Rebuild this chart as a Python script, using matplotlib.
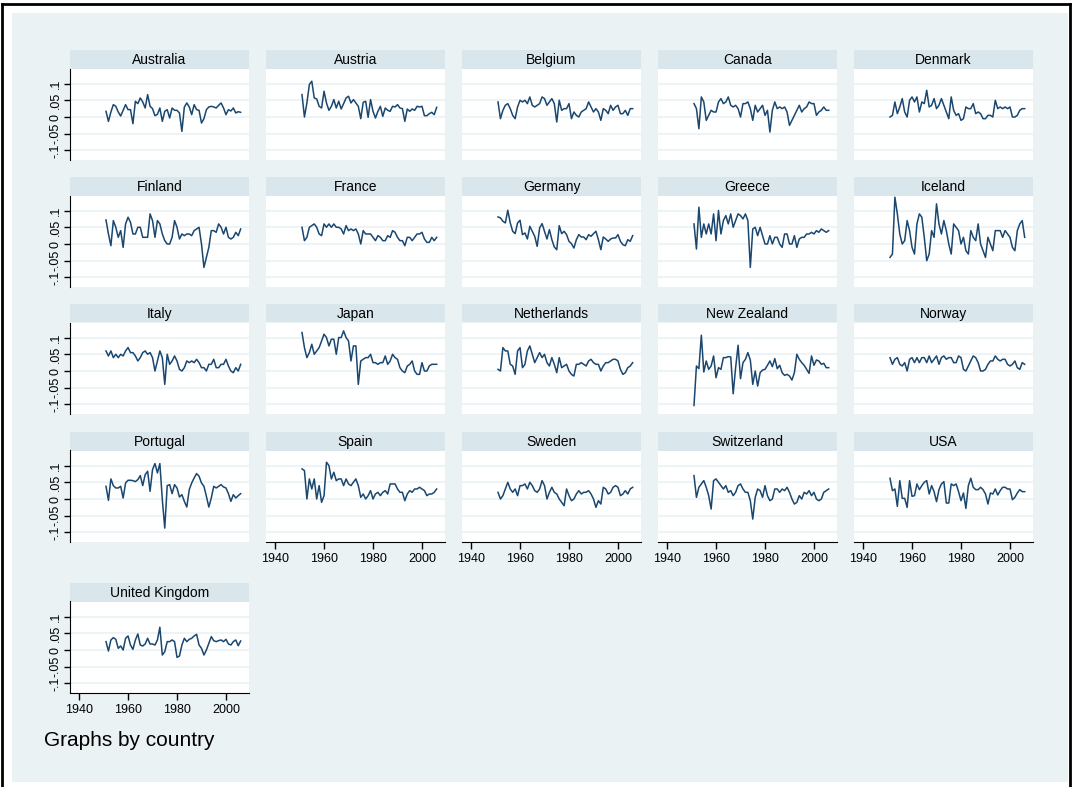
import numpy as np
import matplotlib
matplotlib.use("Agg")
import matplotlib.pyplot as plt
from matplotlib.lines import Line2D
from matplotlib.patches import Rectangle

plt.rcParams['font.family'] = ['Liberation Sans', 'DejaVu Sans']

# Datos: crecimiento anual por pais (1951-2006)
years = list(range(1951, 2007))

countries = ["Australia", "Austria", "Belgium", "Canada", "Denmark",
             "Finland", "France", "Germany", "Greece", "Iceland",
             "Italy", "Japan", "Netherlands", "New Zealand", "Norway",
             "Portugal", "Spain", "Sweden", "Switzerland", "USA",
             "United Kingdom"]

# valores en milesimas
australia = [17, -13, 15, 37, 32, 15, 3, 20, 37, 22, 22, -20, 47, 40, 57, 45, 27, 67, 32, 25,
             4, 8, 27, -13, 17, 22, -3, 27, 20, 20, 12, -43, 30, 42, 30, 7, 37, 22, 20, -18,
             -5, 22, 30, 32, 30, 27, 35, 42, 27, 7, 22, 18, 27, 12, 16, 14]
austria = [67, 0, 42, 97, 107, 57, 54, 32, 27, 77, 42, 20, 32, 52, 27, 47, 24, 40, 57, 62,
           42, 52, 42, 32, -5, 44, 47, -1, 52, 17, -3, 17, 32, 2, 27, 20, 17, 32, 30, 37,
           27, 25, -13, 24, 17, 24, 20, 32, 30, 32, 4, 4, 10, 14, 7, 29]
belgium = [45, -5, 20, 35, 40, 25, 5, -5, 30, 50, 45, 50, 40, 60, 35, 30, 35, 40, 60, 55,
           35, 45, 55, 40, -15, 50, 20, 25, 25, 40, -5, 15, 5, 0, 15, 20, 25, 45, 30, 15,
           25, 15, -10, 25, 20, 10, 35, 20, 30, 35, 10, 10, 20, 5, 25, 25]
canada = [40, 25, -35, 60, 45, -10, 5, 20, 15, 15, 45, 55, 40, 45, 60, 35, 30, 35, 25, 0,
          40, 40, 45, 25, -10, 35, 15, 25, 35, 5, 20, -45, 20, 45, 25, 30, 25, 30, 15, -25,
          -10, 5, 20, 35, 15, 25, 30, 45, 40, 40, 5, 15, 20, 30, 20, 20]
denmark = [0, 5, 45, 10, 30, 55, 15, 0, 50, 60, 45, 60, 15, 45, 40, 80, 30, 35, 55, 25,
           35, 55, 35, 15, -5, 60, 20, 5, 10, -10, -5, 30, 25, 25, 40, 10, 15, 10, -5, -5,
           5, 5, 0, 50, 25, 30, 25, 30, 25, 30, 0, 0, 5, 20, 25, 25]
finland = [72, 30, -5, 70, 50, 20, 40, -10, 60, 80, 65, 30, 30, 50, 50, 20, 20, 20, 90, 70,
           20, 70, 60, 30, 10, 0, 0, 20, 70, 50, 15, 30, 25, 30, 30, 25, 40, 45, 50, 0,
           -70, -40, -10, 40, 40, 35, 60, 50, 30, 50, 20, 15, 20, 35, 25, 45]
france = [50, 10, 20, 50, 55, 60, 50, 30, 25, 60, 50, 60, 50, 60, 50, 50, 45, 30, 55, 40,
          45, 40, 45, 30, 0, 40, 30, 30, 30, 20, 10, 25, 20, 10, 10, 25, 20, 40, 35, 20,
          10, 10, -5, 20, 20, 10, 20, 30, 30, 35, 15, 5, 5, 20, 10, 20]
germany = [81, 78, 68, 63, 101, 63, 38, 31, 63, 71, 28, 33, 15, 53, 38, 23, -7, 48, 61, 38,
           15, 43, 13, -9, -17, 55, 31, 38, 28, 8, 1, -12, 13, 28, 21, 21, 13, 28, 23, 31,
           38, 13, -17, 21, 15, 8, 15, 18, 18, 28, 8, -2, -5, 13, 8, 25]
greece = [60, -15, 110, 20, 60, 30, 60, 30, 90, 10, 100, 30, 70, 85, 60, 90, 50, 70, 90, 85,
          75, 90, 70, -70, 45, 50, 25, 50, 25, 0, 0, 25, 0, 20, 20, 0, -10, 30, 30, 0,
          0, 25, -10, 15, 20, 20, 30, 30, 35, 30, 40, 35, 45, 40, 35, 40]
iceland = [-40, -30, 140, 90, 30, 0, 10, 70, 40, -10, -30, 60, 90, 80, 20, -50, -30, 40, 20, 120,
           60, 30, 70, 40, 0, -30, 60, 50, 40, 0, 20, -20, -30, 40, 20, 10, 60, 0, -20, -40,
           20, 0, -20, 40, 40, 40, 20, 40, 30, 20, -10, -20, 40, 60, 70, 20]
italy = [60, 45, 60, 40, 50, 40, 50, 45, 60, 70, 55, 55, 45, 30, 40, 55, 60, 50, 55, 40,
         0, 30, 60, 40, -40, 50, 20, 30, 45, 30, 5, 0, 10, 30, 25, 30, 25, 35, 25, 10,
         10, 0, 20, 20, 35, 10, 10, 20, 20, 35, 15, 0, -5, 10, 0, 20]
japan = [115, 70, 40, 55, 80, 50, 60, 70, 90, 110, 100, 75, 95, 95, 50, 100, 100, 120, 100, 90,
         30, 75, 75, -40, 30, 35, 40, 40, 50, 25, 25, 20, 25, 25, 45, 20, 30, 50, 40, 35,
         10, 0, -5, 15, 20, 30, 0, -10, -10, 25, 0, 0, 15, 20, 20, 20]
netherlands = [5, 0, 70, 60, 60, 20, 15, -10, 60, 70, 10, 20, 60, 75, 50, 25, 40, 55, 40, 50,
               25, 15, 40, 20, -5, 40, 10, 15, 20, 0, -10, -15, 20, 20, 25, 20, 15, 30, 35, 25,
               20, 20, 0, 15, 25, 25, 30, 35, 35, 30, 5, -10, -5, 10, 15, 25]
new_zealand = [-103, 15, 7, 107, -3, 30, 5, 15, 45, -20, 10, 5, 40, 40, 43, 42, -68, 10, 77, -23,
               25, 35, 55, 33, -40, 0, -45, -5, 3, 5, 17, 30, 13, 37, 7, 17, -5, -13, -10, -15,
               -27, -5, 50, 35, 25, 17, 5, -7, 45, 17, 33, 30, 20, 23, 10, 10]
norway = [40, 20, 35, 40, 20, 15, 25, 0, 35, 40, 25, 40, 25, 40, 40, 25, 45, 25, 35, 45,
          20, 40, 45, 35, 40, 40, 25, 25, 45, 40, 5, 0, 15, 30, 45, 40, 25, 0, 0, 5,
          20, 30, 30, 45, 35, 30, 35, 35, 20, 15, 20, 30, 10, 5, 25, 20]
portugal = [38, -4, 60, 40, 33, 33, 38, 3, 48, 56, 56, 55, 52, 58, 70, 40, 73, 83, 23, 88,
            106, 78, 106, -2, -87, 40, 43, 16, 43, 33, 6, 13, -7, -24, 28, 48, 63, 76, 68, 48,
            38, 8, -24, 3, 38, 33, 38, 43, 36, 33, 16, -7, 13, 3, 10, 16]
spain = [90, 85, 0, 60, 30, 60, 0, 40, -10, 10, 110, 100, 60, 80, 55, 60, 60, 40, 60, 45,
         40, 50, 60, 40, 5, 15, 0, 10, 25, 0, 15, 20, 10, 20, 25, 15, 45, 45, 45, 30,
         20, 20, -5, 15, 25, 20, 30, 30, 35, 30, 25, 10, 15, 15, 20, 30]
sweden = [20, 0, 10, 30, 50, 30, 20, 30, 10, 40, 40, 45, 30, 50, 40, 25, 20, 30, 55, 40,
          0, 20, 35, 20, 15, 0, -10, -20, 30, 10, -5, 0, 15, 25, 15, 20, 20, 25, 15, 0,
          -25, -5, -15, 35, 30, 15, 20, 35, 40, 35, 10, 15, 25, 15, 30, 35]
switzerland = [70, 5, 35, 45, 55, 35, 10, -30, 55, 60, 50, 40, 30, 40, 20, 25, 10, 20, 40, 45,
               30, 20, 20, -5, -60, 5, 30, 25, 5, 40, 10, -5, 0, 30, 30, 20, 30, 25, 35, 20,
               0, -15, -10, 10, 0, 20, 15, 25, 10, 20, 0, -5, 0, 20, 25, 30]
usa = [62, 25, 30, -22, 55, 2, 2, -25, 55, 8, 10, 45, 28, 40, 50, 55, 15, 40, 22, -8,
       28, 45, 52, -12, -12, 45, 40, 45, 22, -5, 18, -28, 40, 62, 35, 28, 28, 35, 28, 15,
       -15, 18, 15, 30, 12, 25, 35, 35, 30, 30, -2, 5, 18, 28, 22, 22]
united_kingdom = [25, -3, 30, 37, 32, 5, 12, 0, 35, 42, 15, 2, 30, 48, 15, 12, 18, 35, 18, 18,
                  15, 30, 68, -15, -5, 25, 25, 30, 25, -22, -18, 15, 35, 25, 32, 35, 42, 47, 15, 5,
                  -15, 0, 20, 40, 28, 25, 28, 30, 25, 32, 18, 15, 25, 30, 13, 27]

series = [australia, austria, belgium, canada, denmark, finland, france, germany,
          greece, iceland, italy, japan, netherlands, new_zealand, norway, portugal,
          spain, sweden, switzerland, usa, united_kingdom]

yticks = [-0.1, -0.05, 0, 0.05, 0.1]
ytick_labels = ["-.1", "-.05", "0", ".05", ".1"]
xticks = [1940, 1960, 1980, 2000]

# Colores estilo Stata s2color
BG = "#eaf2f3"
STRIP = "#d9e6eb"
NAVY = "#1a476f"

W, H = 1078, 787
fig = plt.figure(figsize=(W / 100, H / 100), dpi=100)
fig.patch.set_facecolor("white")


def px(x0, y0, w, h):
    return [x0 / W, 1 - (y0 + h) / H, w / W, h / H]


# fondo y marco
fig.patches.append(Rectangle((12 / W, 1 - 782 / H), (1068 - 12) / W, (782 - 13) / H,
                             transform=fig.transFigure, facecolor=BG, edgecolor="none",
                             zorder=-10))
for xs, ys in [([2 / W, 2 / W], [0, 1 - 4 / H]),
               ([2 / W, 1070 / W], [1 - 4 / H, 1 - 4 / H]),
               ([1070 / W, 1070 / W], [0, 1 - 4 / H])]:
    fig.lines.append(Line2D(xs, ys, transform=fig.transFigure, color="black", lw=2,
                            zorder=-5))

col_left = [70, 266, 462, 658, 854]
strip_top = [50, 177, 304, 432, 583]
panel_w = 179
strip_h = 18.5
plot_h = 91

ncols = 5
n = len(countries)
for k, (name, vals) in enumerate(zip(countries, series)):
    r, c = divmod(k, ncols)
    x0 = col_left[c]
    st = strip_top[r]
    # tira del titulo
    sax = fig.add_axes(px(x0, st, panel_w, strip_h))
    sax.set_facecolor(STRIP)
    sax.set_xticks([])
    sax.set_yticks([])
    for s in sax.spines.values():
        s.set_visible(False)
    sax.text(0.5, 0.45, name, ha="center", va="center", fontsize=10, transform=sax.transAxes)

    ax = fig.add_axes(px(x0, st + strip_h, panel_w, plot_h))
    ax.set_facecolor("white")
    for yt in yticks:
        ax.axhline(yt, color=BG, lw=1.2, zorder=1)
    ax.plot(years, np.array(vals) / 1000.0, color=NAVY, lw=1.1, zorder=3)
    ax.set_xlim(1936.3, 2009.4)
    ax.set_ylim(-0.127, 0.145)
    for s in ax.spines.values():
        s.set_visible(False)

    is_left = (c == 0)
    is_bottom = (k + ncols >= n)
    if is_left:
        ax.spines["left"].set_visible(True)
        ax.spines["left"].set_color("black")
        ax.set_yticks(yticks)
        ax.set_yticklabels(ytick_labels, rotation=90, va="center", fontsize=9)
        ax.tick_params(axis="y", length=4, width=1, pad=2)
    else:
        ax.set_yticks([])
    if is_bottom:
        ax.spines["bottom"].set_visible(True)
        ax.spines["bottom"].set_color("black")
        ax.set_xticks(xticks)
        ax.set_xticklabels([str(t) for t in xticks], fontsize=9)
        ax.tick_params(axis="x", length=5, width=1, pad=3)
    else:
        ax.set_xticks([])

fig.text(44 / W, 1 - 740 / H, "Graphs by country", fontsize=15, ha="left", va="center")

fig.savefig("out.png", dpi=100)
plt.close(fig)
